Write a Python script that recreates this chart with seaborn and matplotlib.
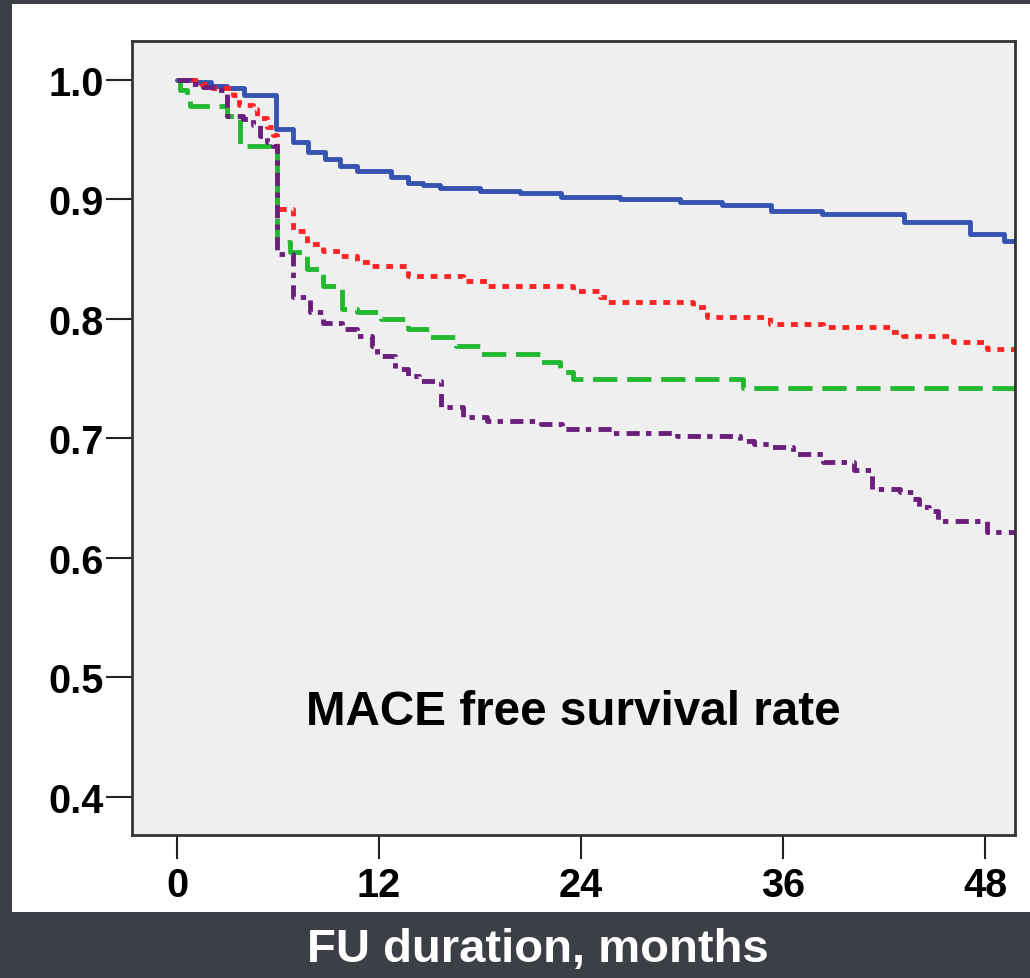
import matplotlib
matplotlib.use("Agg")
import matplotlib.pyplot as plt
import seaborn as sns
import pandas as pd

sns.set_style("white")
plt.rcParams['font.family'] = ['Liberation Sans', 'DejaVu Sans']

# ---- data ----
blue_t = [0, 1.1, 2.0, 3.0, 4.0, 5.9, 6.9, 7.8, 8.8, 9.7, 10.7, 12.7, 13.7, 14.6, 15.6,
          18.0, 20.4, 22.8, 26.3, 29.9, 32.4, 35.3, 38.3, 43.2, 47.1, 49.1, 49.8]
blue_s = [1.0, 0.998, 0.995, 0.993, 0.987, 0.959, 0.948, 0.940, 0.934, 0.928, 0.924, 0.919,
          0.914, 0.912, 0.910, 0.907, 0.905, 0.902, 0.900, 0.898, 0.895, 0.890, 0.888, 0.881,
          0.871, 0.865, 0.865]

red_t = [0, 1.4, 2.1, 3.3, 3.7, 4.5, 4.75, 5.35, 5.7, 5.94, 6.9, 7.7, 8.7, 9.7, 10.7, 11.6,
         13.7, 17.0, 18.4, 23.5, 25.1, 25.55, 30.65, 31.5, 35.2, 38.4, 42.4, 43.1, 46.1, 48.1, 49.8]
red_s = [1.0, 0.997, 0.993, 0.987, 0.979, 0.976, 0.968, 0.961, 0.954, 0.892, 0.874, 0.863,
         0.857, 0.853, 0.848, 0.844, 0.836, 0.832, 0.828, 0.823, 0.818, 0.814, 0.810, 0.802,
         0.796, 0.793, 0.789, 0.786, 0.781, 0.775, 0.775]

green_t = [0, 0.18, 0.6, 0.77, 2.97, 3.74, 5.94, 6.7, 7.7, 8.7, 9.8, 10.7, 12.1, 13.7, 15.0,
           16.6, 18.0, 21.6, 22.75, 23.5, 33.6, 49.8]
green_s = [1.0, 0.992, 0.984, 0.978, 0.970, 0.945, 0.864, 0.856, 0.842, 0.828, 0.808, 0.806,
           0.800, 0.792, 0.785, 0.777, 0.771, 0.764, 0.756, 0.750, 0.742, 0.742]

purple_t = [0, 0.77, 1.54, 2.38, 2.97, 3.92, 4.51, 4.93, 5.35, 5.7, 5.94, 6.9, 7.9, 8.7, 9.8,
            10.7, 11.6, 11.9, 12.95, 13.7, 14.4, 15.7, 17.0, 18.4, 21.6, 22.9, 25.9, 29.7,
            33.45, 34.3, 35.2, 36.6, 38.4, 40.2, 41.3, 42.95, 43.7, 44.1, 44.7, 45.2, 48.1, 49.8]
purple_s = [1.0, 0.997, 0.994, 0.992, 0.970, 0.967, 0.962, 0.953, 0.948, 0.945, 0.854, 0.818,
            0.806, 0.797, 0.792, 0.786, 0.777, 0.769, 0.758, 0.752, 0.748, 0.726, 0.718, 0.715,
            0.712, 0.708, 0.705, 0.702, 0.698, 0.695, 0.693, 0.687, 0.680, 0.674, 0.658, 0.655,
            0.649, 0.643, 0.639, 0.631, 0.622, 0.622]

x_ticks = [0, 12, 24, 36, 48]
y_ticks = [0.4, 0.5, 0.6, 0.7, 0.8, 0.9, 1.0]
inner_label = "MACE free survival rate"
x_caption = "FU duration, months"

# ---- figure ----
fig = plt.figure(figsize=(10.30, 9.79), dpi=100)
fig.patch.set_facecolor("#3d3f47")

# white panel as a background axes
bg = fig.add_axes([12/1030, 1-913/979, 1.0, (913-5)/979], zorder=-5)
bg.set_facecolor("white")
bg.set_xticks([])
bg.set_yticks([])
for sp in bg.spines.values():
    sp.set_visible(False)

ax = fig.add_axes([132/1030, 1-836/979, (1015-132)/1030, (836-42)/979], zorder=1)
ax.set_facecolor("#efefef")

series = [
    (blue_t, blue_s, "#3553b0", "-"),
    (red_t, red_s, "#ff2424", (0, (1.4, 1.4))),
    (green_t, green_s, "#22b830", (0, (5.0, 2.0))),
    (purple_t, purple_s, "#6b1e7c", (0, (2.7, 1.3, 1.1, 1.5))),
]
for t, s, c, ls in series:
    df = pd.DataFrame({"t": t, "s": s})
    sns.lineplot(data=df, x="t", y="s", ax=ax, color=c, linestyle=ls,
                 linewidth=3.5, drawstyle="steps-post", estimator=None,
                 sort=False, legend=False)
    ax.lines[-1].set_dash_capstyle("butt")

ax.set_xlim(-2.67, 49.78)
ax.set_ylim(0.3682, 1.0326)
ax.set_xticks(x_ticks)
ax.set_xticklabels([str(v) for v in x_ticks])
ax.set_yticks(y_ticks)
ax.set_yticklabels([f"{v:.1f}" for v in y_ticks])
ax.set_xlabel("")
ax.set_ylabel("")

for sp in ax.spines.values():
    sp.set_visible(True)
    sp.set_color("#333333")
    sp.set_linewidth(2.0)

ax.tick_params(axis="x", direction="out", length=17, width=1.5, color="#222222",
               pad=5, labelsize=28.5, bottom=True)
ax.tick_params(axis="y", direction="out", length=19, width=1.5, color="#222222",
               pad=1.5, labelsize=28.5, left=True)
for lab in ax.get_xticklabels() + ax.get_yticklabels():
    lab.set_fontweight("bold")
    lab.set_color("black")

ax.text(0.5, 0.155, inner_label, transform=ax.transAxes, ha="center", va="center",
        fontsize=34.3, fontweight="bold", color="black")

fig.text(538/1030, 1-950/979, x_caption, ha="center", va="center",
         fontsize=34, fontweight="bold", color="white")

fig.savefig("out.png", dpi=100, facecolor=fig.get_facecolor())
